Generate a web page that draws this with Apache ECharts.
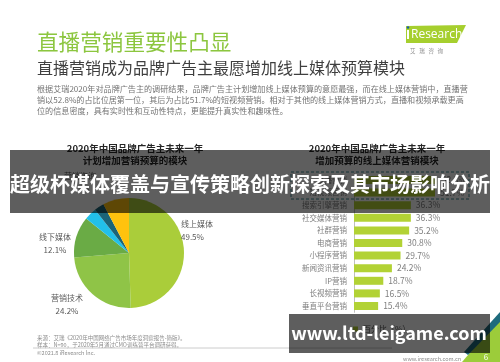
<!DOCTYPE html>
<html><head><meta charset="utf-8">
<script src="https://cdn.jsdelivr.net/npm/echarts@6/dist/echarts.min.js"></script>
<style>html,body{margin:0;padding:0;background:#fff}#c{width:500px;height:362px}</style>
</head><body><div id="c"></div>
<script>
// ---- data ----
const pieNames = ['线上媒体', '营销技术', '线下媒体', '数据技术', '其他', '营销咨询'];
const pieValues = [49.5, 24.2, 12.1, 3.6, 2.9, 7.7];
const pieColors = ['#aacd3a', '#8fc447', '#6aab45', '#22c0ea', '#1b6478', '#ffc20e'];
const pieLabelShown = [true, true, true, false, false, true];

const barCategories = ['直播营销', '短视频营销', '搜索引擎营销', '社交媒体营销', '社群营销', '电商营销', '小程序营销', '新闻资讯营销', 'IP营销', '长视频营销', '垂直平台营销'];
const barValues = [52.8, 51.7, 36.3, 36.3, 35.2, 30.8, 29.7, 24.2, 18.7, 16.5, 15.4];
const barSeriesName = '百分比（%）';

const pieTitle = '2020年中国品牌广告主未来一年\n计划增加营销预算的模块';
const barTitle = '2020年中国品牌广告主未来一年\n增加预算的线上媒体营销模块';
const headTitle = '直播营销重要性凸显';
const headSub = '直播营销成为品牌广告主最愿增加线上媒体预算模块';
const paraLines = [
  '根据艾瑞2020年对品牌广告主的调研结果，品牌广告主计划增加线上媒体预算的意愿最强，而在线上媒体营销中，直播营',
  '销以52.8%的占比位居第一位，其后为占比51.7%的短视频营销。相对于其他的线上媒体营销方式，直播和视频承载更高',
  '位的信息密度，具有实时性和互动性特点，更能提升真实性和趣味性。'
];
const footLines = [
  '来源：艾瑞《2020年中国网络广告市场年度洞察报告-简版》。',
  '样本：N=90，于2020年5月通过CMO训练营平台调研获得。',
  '©2021.8 iResearch Inc.'
];
const overlayText1 = '超级杯媒体覆盖与宣传策略创新探索及其市场影响分析';
const overlayText2 = 'www.ltd-leigame.com';

const FF = '"Noto Sans CJK SC", "Noto Sans", sans-serif';
const chart = echarts.init(document.getElementById('c'), null, {renderer: 'canvas'});

// pie label placement (label layout, not marks)
const pieLabelPos = {
  0: {x: 181, y: 230, align: 'left'},
  1: {x: 67, y: 304, align: 'center'},
  2: {x: 55, y: 243, align: 'center'},
  5: {x: 80, y: 182, align: 'center'}
};

function txt(text, x, y, font, fill, align, valign, z) {
  return {type: 'text', z: z || 10, style: {text: text, x: x, y: y, font: font, fill: fill,
    textAlign: align || 'left', textVerticalAlign: valign || 'middle', align: align || 'left', verticalAlign: valign || 'middle'}};
}

const graphics = [
  txt(headTitle, 37, 42, '21.6px ' + FF, '#8cc63f'),
  txt(headSub, 37, 68, '16px ' + FF, '#3f3f3f'),
  txt(paraLines[0], 37, 89, '8.1px ' + FF, '#737373'),
  txt(paraLines[1], 37, 100, '8.1px ' + FF, '#737373'),
  txt(paraLines[2], 37, 111, '8.1px ' + FF, '#737373'),
  // logo
  {type: 'polygon', z: 10, shape: {points: [[406, 26], [466, 25], [457, 43], [406, 43]]}, style: {fill: '#a6cf2e'}},
  txt('Research', 411, 35, '12px "Open Sans", sans-serif', '#ffffff'),
  {type: 'rect', z: 11, shape: {x: 407, y: 30, width: 2, height: 9}, style: {fill: '#ffffff'}},
  {type: 'circle', z: 11, shape: {cx: 408, cy: 27.5, r: 1.3}, style: {fill: '#1f5fa8'}},
  txt('艾   瑞   咨   询', 410, 51, '5.5px ' + FF, '#8c8c8c'),
  // footer
  txt(footLines[0], 37, 338, '5.5px ' + FF, '#8c8c8c'),
  txt(footLines[1], 37, 344.5, '5.5px ' + FF, '#8c8c8c'),
  txt(footLines[2], 37, 352.5, '5.5px ' + FF, '#8c8c8c'),
  {type: 'line', z: 10, shape: {x1: 33, y1: 348, x2: 392, y2: 348}, style: {stroke: '#bfbfbf', lineWidth: 0.8}},
  txt('www.iresearch.com.cn', 403, 358.5, '5.5px ' + FF, '#8c8c8c'),
  {type: 'polygon', z: 10, shape: {points: [[500, 318], [500, 362], [462, 362]]}, style: {fill: '#9ccc3a'}},
  {type: 'polygon', z: 10, shape: {points: [[500, 312], [500, 322], [468, 355], [464, 352]]}, style: {fill: '#1e6b7d'}},
  txt('6', 486, 357, '8px ' + FF, '#ffffff', 'center', 'middle', 11),
  // dashed highlight box in bar chart
  {type: 'rect', z: 10, shape: {x: 291, y: 172, width: 178, height: 27}, style: {fill: 'none', stroke: '#3f8e99', lineWidth: 1, lineDash: [3, 2]}},
  // overlays
  {type: 'rect', z: 100, shape: {x: 10, y: 150, width: 480, height: 63}, style: {fill: 'rgba(0,0,0,0.63)'}},
  txt(overlayText1, 250, 184, 'bold 20px ' + FF, '#ffffff', 'center', 'middle', 101),
  {type: 'rect', z: 100, shape: {x: 289, y: 314, width: 201, height: 39}, style: {fill: 'rgba(0,0,0,0.63)'}},
  txt(overlayText2, 389, 333, 'bold 18px ' + FF, '#ffffff', 'center', 'middle', 101)
];

const option = {
  backgroundColor: '#ffffff',
  animation: false,
  title: [
    {text: pieTitle, left: 130, top: 137, textAlign: 'center',
      textStyle: {fontFamily: FF, fontSize: 9.5, fontWeight: 'bold', color: '#262626', lineHeight: 12}},
    {text: barTitle, left: 372, top: 137, textAlign: 'center',
      textStyle: {fontFamily: FF, fontSize: 9.5, fontWeight: 'bold', color: '#262626', lineHeight: 12}}
  ],
  legend: {
    data: [barSeriesName], left: 348, top: 320, itemWidth: 5, itemHeight: 5, itemGap: 4,
    icon: 'rect', textStyle: {fontFamily: FF, fontSize: 8, color: '#595959'}
  },
  grid: {left: 354, right: 52, top: 173.7, bottom: 49.7, containLabel: false, outerBoundsMode: 'none'},
  xAxis: {type: 'value', min: 0, max: 60, show: false},
  yAxis: {
    type: 'category', data: barCategories, inverse: true,
    axisLine: {show: true, lineStyle: {color: '#bfbfbf', width: 1}},
    axisTick: {show: false},
    axisLabel: {fontFamily: FF, fontSize: 7.5, color: '#7f7f7f', margin: 7}
  },
  series: [
    {
      type: 'pie', name: 'pie', center: [129, 253], radius: 55, startAngle: 90, clockwise: true,
      avoidLabelOverlap: false,
      data: pieNames.map((n, i) => ({
        name: n, value: pieValues[i], itemStyle: {color: pieColors[i]},
        label: {show: pieLabelShown[i]}
      })),
      label: {
        show: true, position: 'outside', formatter: '{b}\n{c}%',
        fontFamily: FF, fontSize: 8, color: '#595959', lineHeight: 13
      },
      labelLine: {show: false},
      labelLayout: function (p) {
        const pos = pieLabelPos[p.dataIndex];
        if (!pos) return {};
        return {x: pos.x, y: pos.y, align: pos.align, verticalAlign: 'middle', hideOverlap: false};
      },
      emphasis: {disabled: true}
    },
    {
      type: 'bar', name: barSeriesName, data: barValues, barWidth: 8,
      itemStyle: {color: '#b2d235'},
      label: {show: true, position: 'right', distance: 5, formatter: '{c}%',
        fontFamily: FF, fontSize: 8.5, color: '#7f7f7f'},
      emphasis: {disabled: true}
    }
  ],
  graphic: graphics
};
chart.setOption(option);
</script>
</body></html>
